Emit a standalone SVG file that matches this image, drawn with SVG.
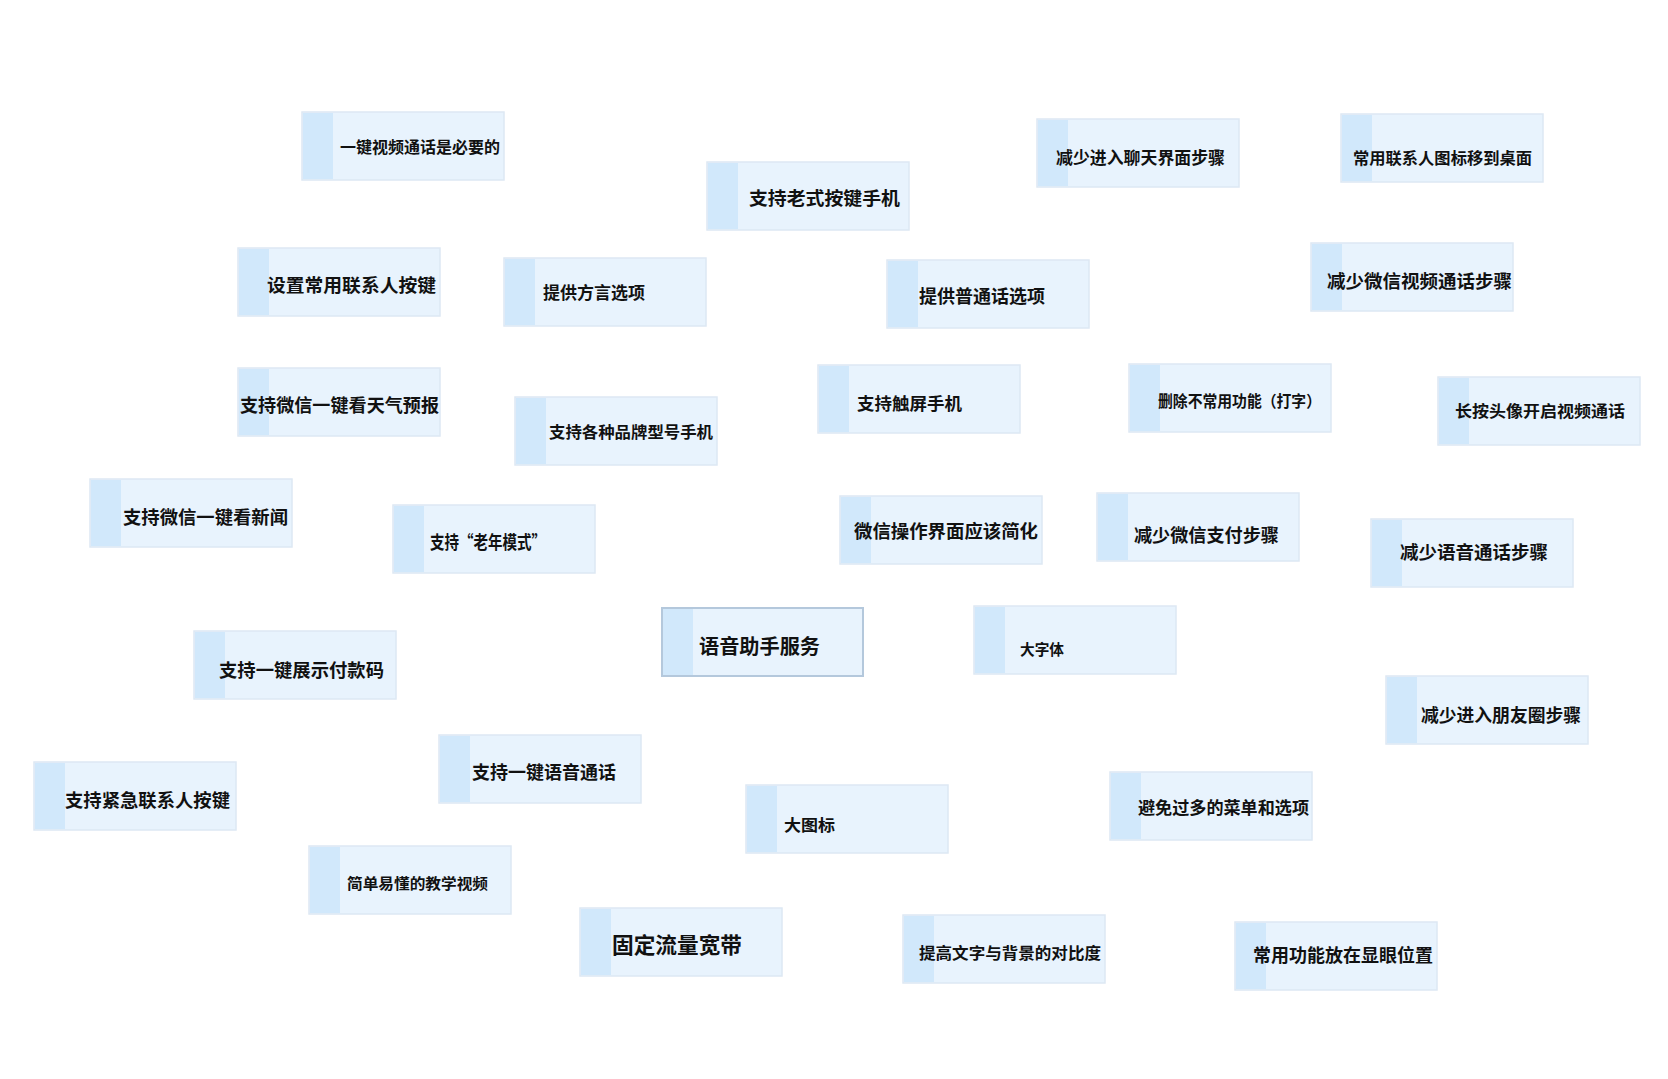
<svg xmlns="http://www.w3.org/2000/svg" width="1668" height="1079" viewBox="0 0 1668 1079">
<style>
.bg{fill:#e8f3fd;stroke:#dde8f3;stroke-width:1.5}
.bg.main{stroke:#b4c8dc;stroke-width:2}
.st{fill:#d1e8fb}
.t{font-family:"Noto Sans CJK SC","Noto Sans CJK JP",sans-serif;font-weight:700;fill:#111;dominant-baseline:central}
</style>
<rect width="1668" height="1079" fill="#ffffff"/>
<g id="connectors"></g>
<g id="n1"><rect class="bg" x="302" y="112" width="202" height="68"/><rect class="st" x="303" y="113" width="30" height="66"/><text class="t" x="340" y="146" font-size="16" textLength="160" lengthAdjust="spacingAndGlyphs">一键视频通话是必要的</text></g>
<g id="n2"><rect class="bg" x="707" y="162" width="202" height="68"/><rect class="st" x="708" y="163" width="30" height="66"/><text class="t" x="749" y="197" font-size="18" textLength="151" lengthAdjust="spacingAndGlyphs">支持老式按键手机</text></g>
<g id="n3"><rect class="bg" x="1037" y="119" width="202" height="68"/><rect class="st" x="1038" y="120" width="30" height="66"/><text class="t" x="1056" y="156" font-size="17" textLength="169" lengthAdjust="spacingAndGlyphs">减少进入聊天界面步骤</text></g>
<g id="n4"><rect class="bg" x="1341" y="114" width="202" height="68"/><rect class="st" x="1342" y="115" width="30" height="66"/><text class="t" x="1353" y="157" font-size="16" textLength="179" lengthAdjust="spacingAndGlyphs">常用联系人图标移到桌面</text></g>
<g id="n5"><rect class="bg" x="238" y="248" width="202" height="68"/><rect class="st" x="239" y="249" width="30" height="66"/><text class="t" x="267" y="284" font-size="18" textLength="169" lengthAdjust="spacingAndGlyphs">设置常用联系人按键</text></g>
<g id="n6"><rect class="bg" x="504" y="258" width="202" height="68"/><rect class="st" x="505" y="259" width="30" height="66"/><text class="t" x="543" y="291" font-size="17" textLength="102" lengthAdjust="spacingAndGlyphs">提供方言选项</text></g>
<g id="n7"><rect class="bg" x="887" y="260" width="202" height="68"/><rect class="st" x="888" y="261" width="30" height="66"/><text class="t" x="919" y="295" font-size="18" textLength="126" lengthAdjust="spacingAndGlyphs">提供普通话选项</text></g>
<g id="n8"><rect class="bg" x="1311" y="243" width="202" height="68"/><rect class="st" x="1312" y="244" width="30" height="66"/><text class="t" x="1327" y="280" font-size="18" textLength="185" lengthAdjust="spacingAndGlyphs">减少微信视频通话步骤</text></g>
<g id="n9"><rect class="bg" x="238" y="368" width="202" height="68"/><rect class="st" x="239" y="369" width="30" height="66"/><text class="t" x="240" y="404" font-size="18" textLength="199" lengthAdjust="spacingAndGlyphs">支持微信一键看天气预报</text></g>
<g id="n10"><rect class="bg" x="515" y="397" width="202" height="68"/><rect class="st" x="516" y="398" width="30" height="66"/><text class="t" x="549" y="431" font-size="16" textLength="164" lengthAdjust="spacingAndGlyphs">支持各种品牌型号手机</text></g>
<g id="n11"><rect class="bg" x="818" y="365" width="202" height="68"/><rect class="st" x="819" y="366" width="30" height="66"/><text class="t" x="857" y="402" font-size="17" textLength="105" lengthAdjust="spacingAndGlyphs">支持触屏手机</text></g>
<g id="n12"><rect class="bg" x="1129" y="364" width="202" height="68"/><rect class="st" x="1130" y="365" width="30" height="66"/><text class="t" x="1158" y="400" font-size="16" textLength="163" lengthAdjust="spacingAndGlyphs">删除不常用功能（打字）</text></g>
<g id="n13"><rect class="bg" x="1438" y="377" width="202" height="68"/><rect class="st" x="1439" y="378" width="30" height="66"/><text class="t" x="1455" y="410" font-size="16" textLength="170" lengthAdjust="spacingAndGlyphs">长按头像开启视频通话</text></g>
<g id="n14"><rect class="bg" x="90" y="479" width="202" height="68"/><rect class="st" x="91" y="480" width="30" height="66"/><text class="t" x="123" y="516" font-size="18" textLength="165" lengthAdjust="spacingAndGlyphs">支持微信一键看新闻</text></g>
<g id="n15"><rect class="bg" x="393" y="505" width="202" height="68"/><rect class="st" x="394" y="506" width="30" height="66"/><text class="t" x="430" y="541" font-size="18" textLength="116" lengthAdjust="spacingAndGlyphs">支持“老年模式”</text></g>
<g id="n16"><rect class="bg" x="840" y="496" width="202" height="68"/><rect class="st" x="841" y="497" width="30" height="66"/><text class="t" x="854" y="530" font-size="18" textLength="184" lengthAdjust="spacingAndGlyphs">微信操作界面应该简化</text></g>
<g id="n17"><rect class="bg" x="1097" y="493" width="202" height="68"/><rect class="st" x="1098" y="494" width="30" height="66"/><text class="t" x="1134" y="534" font-size="18" textLength="145" lengthAdjust="spacingAndGlyphs">减少微信支付步骤</text></g>
<g id="n18"><rect class="bg" x="1371" y="519" width="202" height="68"/><rect class="st" x="1372" y="520" width="30" height="66"/><text class="t" x="1400" y="551" font-size="18" textLength="148" lengthAdjust="spacingAndGlyphs">减少语音通话步骤</text></g>
<g id="n19"><rect class="bg main" x="662" y="608" width="201" height="68"/><rect class="st" x="663" y="609" width="30" height="66"/><text class="t" x="699" y="645" font-size="20" textLength="121" lengthAdjust="spacingAndGlyphs">语音助手服务</text></g>
<g id="n20"><rect class="bg" x="974" y="606" width="202" height="68"/><rect class="st" x="975" y="607" width="30" height="66"/><text class="t" x="1020" y="648" font-size="15" textLength="44" lengthAdjust="spacingAndGlyphs">大字体</text></g>
<g id="n21"><rect class="bg" x="194" y="631" width="202" height="68"/><rect class="st" x="195" y="632" width="30" height="66"/><text class="t" x="219" y="669" font-size="18" textLength="165" lengthAdjust="spacingAndGlyphs">支持一键展示付款码</text></g>
<g id="n22"><rect class="bg" x="1386" y="676" width="202" height="68"/><rect class="st" x="1387" y="677" width="30" height="66"/><text class="t" x="1421" y="714" font-size="18" textLength="160" lengthAdjust="spacingAndGlyphs">减少进入朋友圈步骤</text></g>
<g id="n23"><rect class="bg" x="439" y="735" width="202" height="68"/><rect class="st" x="440" y="736" width="30" height="66"/><text class="t" x="472" y="771" font-size="18" textLength="144" lengthAdjust="spacingAndGlyphs">支持一键语音通话</text></g>
<g id="n24"><rect class="bg" x="34" y="762" width="202" height="68"/><rect class="st" x="35" y="763" width="30" height="66"/><text class="t" x="65" y="799" font-size="18" textLength="165" lengthAdjust="spacingAndGlyphs">支持紧急联系人按键</text></g>
<g id="n25"><rect class="bg" x="746" y="785" width="202" height="68"/><rect class="st" x="747" y="786" width="30" height="66"/><text class="t" x="784" y="824" font-size="16" textLength="51" lengthAdjust="spacingAndGlyphs">大图标</text></g>
<g id="n26"><rect class="bg" x="1110" y="772" width="202" height="68"/><rect class="st" x="1111" y="773" width="30" height="66"/><text class="t" x="1138" y="806" font-size="17" textLength="171" lengthAdjust="spacingAndGlyphs">避免过多的菜单和选项</text></g>
<g id="n27"><rect class="bg" x="309" y="846" width="202" height="68"/><rect class="st" x="310" y="847" width="30" height="66"/><text class="t" x="347" y="882" font-size="15" textLength="141" lengthAdjust="spacingAndGlyphs">简单易懂的教学视频</text></g>
<g id="n28"><rect class="bg" x="580" y="908" width="202" height="68"/><rect class="st" x="581" y="909" width="30" height="66"/><text class="t" x="612" y="943" font-size="22" textLength="130" lengthAdjust="spacingAndGlyphs">固定流量宽带</text></g>
<g id="n29"><rect class="bg" x="903" y="915" width="202" height="68"/><rect class="st" x="904" y="916" width="30" height="66"/><text class="t" x="919" y="952" font-size="16" textLength="182" lengthAdjust="spacingAndGlyphs">提高文字与背景的对比度</text></g>
<g id="n30"><rect class="bg" x="1235" y="922" width="202" height="68"/><rect class="st" x="1236" y="923" width="30" height="66"/><text class="t" x="1253" y="954" font-size="18" textLength="180" lengthAdjust="spacingAndGlyphs">常用功能放在显眼位置</text></g>
</svg>
